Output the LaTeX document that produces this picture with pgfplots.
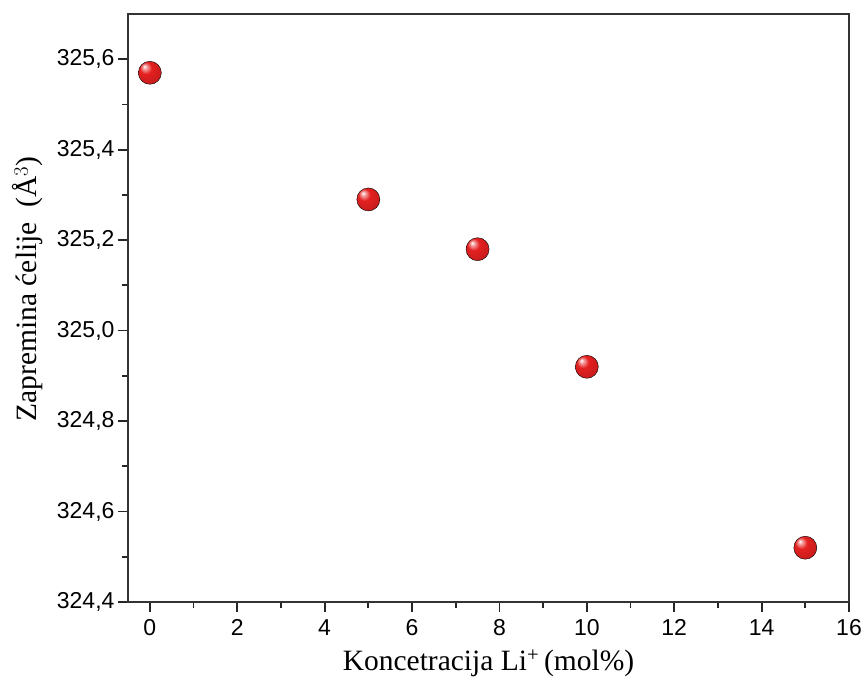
\documentclass[border=0pt]{standalone}
\usepackage{pgfplots}
\pgfplotsset{compat=1.18}
\usepackage{fontspec}
\setmainfont{Liberation Serif}
\newfontfamily\arialf{Liberation Sans}
\definecolor{ballred}{RGB}{228,32,32}
\pgfdeclareradialshading{redball}{\pgfpoint{-12bp}{14bp}}{%
  color(0bp)=(white);
  color(5bp)=(ballred!45!white);
  color(13bp)=(ballred);
  color(30bp)=(ballred!88!black);
  color(50bp)=(ballred!62!black)}
\pgfdeclareplotmark{redball}{\shade[shading=redball] (0pt,0pt) circle (\pgfplotmarksize);}
\begin{document}
\begin{tikzpicture}
\begin{axis}[
  scale only axis,
  width=721pt, height=588pt,
  xmin=-0.5, xmax=16,
  ymin=324.4, ymax=325.7,
  xtick={0,2,...,16},
  minor xtick={1,3,...,15},
  ytick={324.4,324.6,...,325.61},
  minor ytick={324.5,324.7,...,325.55},
  tick align=outside,
  xtick pos=bottom, ytick pos=left,
  major tick length=10pt, minor tick length=6pt,
  every tick/.style={line width=1.8pt, black!85},
  axis line style={line width=2pt, black!80},
  /pgf/number format/assume math mode=true,
  /pgf/number format/use comma,
  yticklabel style={/pgf/number format/fixed, /pgf/number format/fixed zerofill, /pgf/number format/precision=1, font=\arialf\fontsize{23}{26}\selectfont},
  xticklabel style={font=\arialf\fontsize{23}{26}\selectfont, yshift=-4pt},
  xlabel={Koncetracija Li\textsuperscript{+}\,(mol\%)},
  ylabel={Zapremina ćelije\ \ (Å$^{3}$)},
  label style={font=\fontsize{29.5}{33}\selectfont},
  xlabel style={at={([yshift=-61pt]axis description cs:0.5,0)}, anchor=center},
  ylabel style={at={([xshift=-100pt,yshift=19pt]axis description cs:0,0.5)}, anchor=center},
  clip=false,
]
\addplot[only marks, mark=redball, mark size=11.5pt] coordinates {
  (0,325.57) (5,325.29) (7.5,325.18) (10,324.92) (15,324.52)
};
\end{axis}
\pgfresetboundingbox
\path ([shift={(-128pt,-79pt)}]current axis.south west) rectangle ([shift={(13pt,14pt)}]current axis.north east);
\end{tikzpicture}
\end{document}
